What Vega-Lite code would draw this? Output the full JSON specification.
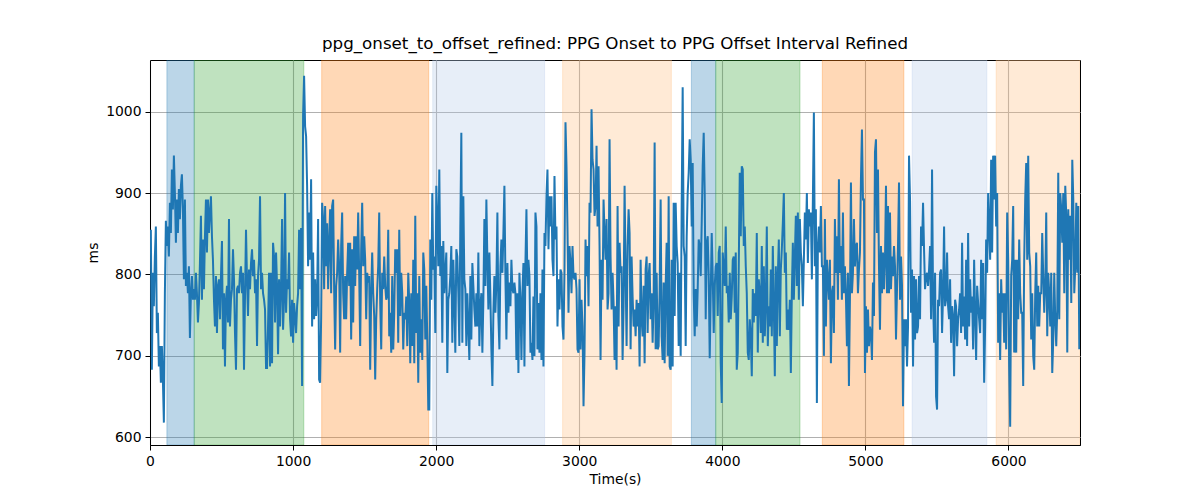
{
"$schema":"https://vega.github.io/schema/vega-lite/v6.json",
"width":930,"height":385,
"autosize":"none",
"padding":{"left":150,"top":60,"right":120,"bottom":55},
"background":"white",
"title":{"text":"ppg_onset_to_offset_refined: PPG Onset to PPG Offset Interval Refined","font":"DejaVu Sans","fontSize":16.7,"fontWeight":"normal","color":"black","anchor":"middle","offset":7},
"config":{
"view":{"stroke":"black","strokeWidth":1},
"axis":{"labelFont":"DejaVu Sans","titleFont":"DejaVu Sans","labelFontSize":13.9,"titleFontSize":13.9,"titleFontWeight":"normal","labelColor":"black","titleColor":"black","domainColor":"black","tickColor":"black","tickSize":5,"labelPadding":4,"gridColor":"#b0b0b0","gridWidth":1.1,"titlePadding":5,"labelFlush":false,"labelOverlap":false}
},
"datasets":{
"spans":[
{"start":118,"end":309,"label":"A"},{"start":309,"end":1075,"label":"B"},{"start":1200,"end":1948,"label":"C"},{"start":1976,"end":2758,"label":"D"},{"start":2884,"end":3644,"label":"E"},
{"start":3784,"end":3954,"label":"A"},{"start":3954,"end":4543,"label":"B"},{"start":4699,"end":5269,"label":"C"},{"start":5327,"end":5849,"label":"D"},{"start":5914,"end":6500,"label":"E"}],
"ppg":[
{"t":6,"v":855},{"t":13,"v":683},{"t":20,"v":802},{"t":27,"v":761},{"t":34,"v":822},{"t":41,"v":859},{"t":48,"v":728},{"t":55,"v":753},{"t":62,"v":687},{"t":69,"v":712},
{"t":76,"v":667},{"t":83,"v":712},{"t":90,"v":671},{"t":97,"v":618},{"t":104,"v":777},{"t":111,"v":866},{"t":118,"v":835},{"t":125,"v":859},{"t":132,"v":822},{"t":139,"v":888},
{"t":146,"v":851},{"t":153,"v":929},{"t":160,"v":880},{"t":167,"v":946},{"t":174,"v":900},{"t":181,"v":839},{"t":188,"v":892},{"t":195,"v":851},{"t":202,"v":905},{"t":209,"v":868},
{"t":216,"v":909},{"t":223,"v":923},{"t":230,"v":880},{"t":237,"v":794},{"t":244,"v":892},{"t":251,"v":786},{"t":258,"v":802},{"t":265,"v":777},{"t":272,"v":810},{"t":279,"v":722},
{"t":286,"v":777},{"t":293,"v":798},{"t":300,"v":769},{"t":307,"v":782},{"t":314,"v":769},{"t":321,"v":802},{"t":328,"v":777},{"t":335,"v":741},{"t":342,"v":765},{"t":349,"v":814},
{"t":356,"v":872},{"t":363,"v":769},{"t":370,"v":843},{"t":377,"v":782},{"t":384,"v":847},{"t":391,"v":892},{"t":398,"v":827},{"t":405,"v":892},{"t":412,"v":851},{"t":419,"v":876},
{"t":426,"v":896},{"t":433,"v":847},{"t":440,"v":818},{"t":447,"v":769},{"t":454,"v":736},{"t":461,"v":798},{"t":468,"v":728},{"t":475,"v":786},{"t":482,"v":794},{"t":489,"v":745},
{"t":496,"v":798},{"t":503,"v":841},{"t":510,"v":708},{"t":517,"v":777},{"t":524,"v":687},{"t":531,"v":769},{"t":538,"v":786},{"t":545,"v":741},{"t":552,"v":868},{"t":559,"v":736},
{"t":566,"v":769},{"t":573,"v":782},{"t":580,"v":831},{"t":587,"v":794},{"t":594,"v":728},{"t":601,"v":683},{"t":608,"v":782},{"t":615,"v":786},{"t":622,"v":777},{"t":629,"v":802},
{"t":636,"v":810},{"t":643,"v":777},{"t":650,"v":802},{"t":657,"v":683},{"t":664,"v":773},{"t":671,"v":855},{"t":678,"v":794},{"t":685,"v":749},{"t":692,"v":806},{"t":699,"v":782},
{"t":706,"v":814},{"t":713,"v":831},{"t":720,"v":798},{"t":727,"v":818},{"t":734,"v":777},{"t":741,"v":794},{"t":748,"v":712},{"t":755,"v":798},{"t":762,"v":818},{"t":769,"v":896},
{"t":776,"v":782},{"t":783,"v":802},{"t":790,"v":777},{"t":797,"v":769},{"t":804,"v":757},{"t":811,"v":685},
{"t":818,"v":685},{"t":825,"v":736},{"t":832,"v":802},{"t":839,"v":687},{"t":846,"v":802},{"t":853,"v":691},{"t":860,"v":839},{"t":867,"v":822},{"t":874,"v":741},{"t":881,"v":827},
{"t":888,"v":786},{"t":895,"v":702},{"t":902,"v":794},{"t":909,"v":736},{"t":916,"v":782},{"t":923,"v":868},{"t":930,"v":732},{"t":937,"v":769},{"t":944,"v":900},{"t":951,"v":753},
{"t":958,"v":794},{"t":965,"v":782},{"t":972,"v":827},{"t":979,"v":745},{"t":986,"v":724},{"t":993,"v":769},{"t":1000,"v":716},{"t":1007,"v":765},{"t":1014,"v":749},{"t":1021,"v":728},
{"t":1028,"v":761},{"t":1035,"v":777},{"t":1042,"v":855},{"t":1049,"v":782},{"t":1056,"v":857},{"t":1063,"v":663},{"t":1070,"v":995},{"t":1077,"v":1044},{"t":1084,"v":982},{"t":1091,"v":970},
{"t":1098,"v":909},{"t":1105,"v":810},{"t":1112,"v":876},{"t":1119,"v":818},{"t":1126,"v":917},{"t":1133,"v":736},{"t":1140,"v":827},{"t":1147,"v":745},{"t":1154,"v":794},{"t":1161,"v":749},
{"t":1168,"v":773},{"t":1175,"v":868},{"t":1182,"v":671},{"t":1189,"v":667},{"t":1196,"v":745},{"t":1203,"v":888},{"t":1210,"v":868},{"t":1217,"v":782},{"t":1224,"v":884},{"t":1231,"v":810},
{"t":1238,"v":863},{"t":1245,"v":782},{"t":1252,"v":839},{"t":1259,"v":880},{"t":1266,"v":777},{"t":1273,"v":884},{"t":1280,"v":892},{"t":1287,"v":782},{"t":1294,"v":708},{"t":1301,"v":786},
{"t":1308,"v":802},{"t":1315,"v":843},{"t":1322,"v":810},{"t":1329,"v":704},{"t":1336,"v":835},{"t":1343,"v":876},{"t":1350,"v":777},{"t":1357,"v":745},{"t":1364,"v":798},{"t":1371,"v":745},
{"t":1378,"v":802},{"t":1385,"v":839},{"t":1392,"v":786},{"t":1399,"v":839},{"t":1406,"v":720},{"t":1413,"v":831},{"t":1420,"v":741},{"t":1427,"v":847},{"t":1434,"v":786},{"t":1441,"v":847},
{"t":1448,"v":806},{"t":1455,"v":876},{"t":1462,"v":802},{"t":1469,"v":712},{"t":1476,"v":831},{"t":1483,"v":888},{"t":1490,"v":810},{"t":1497,"v":847},{"t":1504,"v":818},{"t":1511,"v":745},
{"t":1518,"v":802},{"t":1525,"v":790},{"t":1532,"v":798},{"t":1539,"v":683},{"t":1546,"v":777},{"t":1553,"v":827},{"t":1560,"v":777},{"t":1567,"v":749},{"t":1574,"v":671},{"t":1581,"v":745},
{"t":1588,"v":782},{"t":1595,"v":810},{"t":1602,"v":876},{"t":1609,"v":765},{"t":1616,"v":708},{"t":1623,"v":802},{"t":1630,"v":782},{"t":1637,"v":822},{"t":1644,"v":786},{"t":1651,"v":769},
{"t":1658,"v":773},
{"t":1665,"v":855},{"t":1672,"v":724},{"t":1679,"v":753},{"t":1686,"v":704},{"t":1693,"v":798},{"t":1700,"v":708},{"t":1707,"v":753},{"t":1714,"v":831},{"t":1721,"v":802},{"t":1728,"v":831},
{"t":1735,"v":716},{"t":1742,"v":855},{"t":1749,"v":749},{"t":1756,"v":802},{"t":1763,"v":777},{"t":1770,"v":708},{"t":1777,"v":753},{"t":1784,"v":745},{"t":1791,"v":773},{"t":1798,"v":712},
{"t":1805,"v":802},{"t":1812,"v":765},{"t":1819,"v":691},{"t":1826,"v":777},{"t":1833,"v":712},{"t":1840,"v":818},{"t":1847,"v":691},{"t":1854,"v":872},{"t":1861,"v":728},{"t":1868,"v":777},
{"t":1875,"v":667},{"t":1882,"v":798},{"t":1889,"v":704},{"t":1896,"v":745},{"t":1903,"v":695},{"t":1910,"v":827},{"t":1917,"v":806},{"t":1924,"v":720},{"t":1931,"v":786},{"t":1938,"v":720},
{"t":1945,"v":634},{"t":1952,"v":634},{"t":1959,"v":843},{"t":1966,"v":769},{"t":1973,"v":900},{"t":1980,"v":806},{"t":1987,"v":822},{"t":1994,"v":728},{"t":2001,"v":909},{"t":2008,"v":868},
{"t":2015,"v":810},{"t":2022,"v":929},{"t":2029,"v":798},{"t":2036,"v":835},{"t":2043,"v":716},{"t":2050,"v":841},{"t":2057,"v":777},{"t":2064,"v":802},{"t":2071,"v":827},{"t":2078,"v":679},
{"t":2085,"v":769},{"t":2092,"v":777},{"t":2099,"v":798},{"t":2106,"v":835},{"t":2113,"v":716},{"t":2120,"v":818},{"t":2127,"v":769},{"t":2134,"v":704},{"t":2141,"v":831},{"t":2148,"v":822},
{"t":2155,"v":777},{"t":2162,"v":712},{"t":2169,"v":859},{"t":2176,"v":974},{"t":2183,"v":716},{"t":2190,"v":896},{"t":2197,"v":794},{"t":2204,"v":782},{"t":2211,"v":712},{"t":2218,"v":777},
{"t":2225,"v":736},{"t":2232,"v":695},{"t":2239,"v":798},{"t":2246,"v":720},{"t":2253,"v":814},{"t":2260,"v":786},{"t":2267,"v":757},{"t":2274,"v":736},{"t":2281,"v":777},{"t":2288,"v":736},
{"t":2295,"v":827},{"t":2302,"v":712},{"t":2309,"v":761},{"t":2316,"v":777},{"t":2323,"v":704},{"t":2330,"v":769},{"t":2337,"v":868},{"t":2344,"v":786},{"t":2351,"v":892},{"t":2358,"v":818},
{"t":2365,"v":757},{"t":2372,"v":827},{"t":2379,"v":773},{"t":2386,"v":708},{"t":2393,"v":663},{"t":2400,"v":753},{"t":2407,"v":798},{"t":2414,"v":753},{"t":2421,"v":790},{"t":2428,"v":876},
{"t":2435,"v":749},{"t":2442,"v":708},{"t":2449,"v":810},{"t":2456,"v":843},{"t":2463,"v":802},{"t":2470,"v":851},{"t":2477,"v":909},{"t":2484,"v":798},{"t":2491,"v":720},{"t":2498,"v":814},
{"t":2505,"v":753},{"t":2512,"v":790},{"t":2519,"v":761},{"t":2526,"v":818},{"t":2533,"v":782},{"t":2540,"v":777},{"t":2547,"v":790},{"t":2554,"v":777},{"t":2561,"v":695},{"t":2568,"v":777},
{"t":2575,"v":679},{"t":2582,"v":802},{"t":2589,"v":769},{"t":2596,"v":695},{"t":2603,"v":777},{"t":2610,"v":814},{"t":2617,"v":687},{"t":2624,"v":814},{"t":2631,"v":880},{"t":2638,"v":786},
{"t":2645,"v":818},{"t":2652,"v":798},{"t":2659,"v":704},{"t":2666,"v":716},{"t":2673,"v":695},{"t":2680,"v":773},{"t":2687,"v":700},{"t":2694,"v":876},{"t":2701,"v":859},{"t":2708,"v":708},
{"t":2715,"v":765},{"t":2722,"v":704},{"t":2729,"v":777},{"t":2736,"v":695},{"t":2743,"v":806},{"t":2750,"v":687},{"t":2757,"v":851},{"t":2764,"v":835},{"t":2771,"v":896},{"t":2778,"v":929},
{"t":2785,"v":831},{"t":2792,"v":896},{"t":2799,"v":859},{"t":2806,"v":896},{"t":2813,"v":818},{"t":2820,"v":798},{"t":2827,"v":921},{"t":2834,"v":843},{"t":2841,"v":859},{"t":2848,"v":736},
{"t":2855,"v":794},{"t":2862,"v":757},{"t":2869,"v":806},{"t":2876,"v":802},{"t":2883,"v":736},{"t":2890,"v":720},{"t":2897,"v":806},{"t":2904,"v":987},{"t":2911,"v":933},{"t":2918,"v":855},
{"t":2925,"v":753},{"t":2932,"v":835},{"t":2939,"v":814},{"t":2946,"v":777},{"t":2953,"v":835},{"t":2960,"v":798},{"t":2967,"v":794},{"t":2974,"v":802},{"t":2981,"v":782},{"t":2988,"v":708},
{"t":2995,"v":704},{"t":3002,"v":794},{"t":3009,"v":708},{"t":3016,"v":769},{"t":3023,"v":736},{"t":3030,"v":638},{"t":3037,"v":704},{"t":3044,"v":843},{"t":3051,"v":798},{"t":3058,"v":835},
{"t":3065,"v":761},{"t":3072,"v":888},{"t":3079,"v":876},{"t":3086,"v":1003},{"t":3093,"v":941},{"t":3100,"v":929},{"t":3107,"v":872},{"t":3114,"v":884},{"t":3121,"v":958},{"t":3128,"v":859},
{"t":3135,"v":933},{"t":3142,"v":835},{"t":3149,"v":695},{"t":3156,"v":818},{"t":3163,"v":769},{"t":3170,"v":892},{"t":3177,"v":851},{"t":3184,"v":818},{"t":3191,"v":868},{"t":3198,"v":757},
{"t":3205,"v":777},{"t":3212,"v":966},{"t":3219,"v":822},{"t":3226,"v":757},{"t":3233,"v":802},{"t":3240,"v":765},{"t":3247,"v":695},{"t":3254,"v":761},{"t":3261,"v":683},{"t":3268,"v":884},
{"t":3275,"v":736},{"t":3282,"v":839},{"t":3289,"v":802},{"t":3296,"v":810},{"t":3303,"v":695},{"t":3310,"v":761},{"t":3317,"v":909},{"t":3324,"v":802},{"t":3331,"v":712},{"t":3338,"v":835},
{"t":3345,"v":880},{"t":3352,"v":851},{"t":3359,"v":708},{"t":3366,"v":822},{"t":3373,"v":773},{"t":3380,"v":736},{"t":3387,"v":757},{"t":3394,"v":724},{"t":3401,"v":769},{"t":3408,"v":736},
{"t":3415,"v":765},{"t":3422,"v":687},{"t":3429,"v":818},{"t":3436,"v":745},{"t":3443,"v":724},{"t":3450,"v":786},{"t":3457,"v":691},{"t":3464,"v":806},{"t":3471,"v":822},{"t":3478,"v":728},
{"t":3485,"v":798},{"t":3492,"v":814},{"t":3499,"v":745},{"t":3506,"v":777},{"t":3513,"v":716},{"t":3520,"v":769},{"t":3527,"v":962},{"t":3534,"v":708},{"t":3541,"v":802},{"t":3548,"v":708},
{"t":3555,"v":712},{"t":3562,"v":782},{"t":3569,"v":892},{"t":3576,"v":724},{"t":3583,"v":695},{"t":3590,"v":790},{"t":3597,"v":691},{"t":3604,"v":786},{"t":3611,"v":839},{"t":3618,"v":700},
{"t":3625,"v":896},{"t":3632,"v":687},{"t":3639,"v":683},{"t":3646,"v":818},{"t":3653,"v":687},{"t":3660,"v":888},{"t":3667,"v":749},{"t":3674,"v":888},{"t":3681,"v":835},{"t":3688,"v":814},
{"t":3695,"v":712},{"t":3702,"v":802},{"t":3709,"v":700},{"t":3716,"v":884},{"t":3723,"v":1030},{"t":3730,"v":835},{"t":3737,"v":822},{"t":3744,"v":712},{"t":3751,"v":847},{"t":3758,"v":900},
{"t":3765,"v":925},{"t":3772,"v":966},{"t":3779,"v":941},{"t":3786,"v":859},{"t":3793,"v":937},{"t":3800,"v":777},{"t":3807,"v":724},{"t":3814,"v":782},{"t":3821,"v":736},{"t":3828,"v":782},
{"t":3835,"v":843},{"t":3842,"v":835},{"t":3849,"v":798},{"t":3856,"v":863},{"t":3863,"v":933},{"t":3870,"v":974},{"t":3877,"v":900},{"t":3884,"v":745},{"t":3891,"v":839},{"t":3898,"v":847},
{"t":3905,"v":798},{"t":3912,"v":697},{"t":3919,"v":777},{"t":3926,"v":851},{"t":3933,"v":798},{"t":3940,"v":728},{"t":3947,"v":786},{"t":3954,"v":810},{"t":3961,"v":814},{"t":3968,"v":749},
{"t":3975,"v":827},{"t":3982,"v":835},{"t":3989,"v":691},{"t":3996,"v":642},{"t":4003,"v":827},{"t":4010,"v":806},{"t":4017,"v":786},{"t":4024,"v":859},{"t":4031,"v":777},{"t":4038,"v":786},
{"t":4045,"v":741},{"t":4052,"v":802},{"t":4059,"v":745},{"t":4066,"v":773},{"t":4073,"v":818},{"t":4080,"v":822},{"t":4087,"v":753},{"t":4094,"v":827},{"t":4101,"v":683},{"t":4108,"v":704},
{"t":4115,"v":810},{"t":4122,"v":925},{"t":4129,"v":847},{"t":4136,"v":933},{"t":4143,"v":929},{"t":4150,"v":835},{"t":4157,"v":859},{"t":4164,"v":810},{"t":4171,"v":777},{"t":4178,"v":704},
{"t":4185,"v":695},{"t":4192,"v":745},{"t":4199,"v":724},{"t":4206,"v":675},{"t":4213,"v":782},{"t":4220,"v":741},{"t":4227,"v":777},{"t":4234,"v":749},{"t":4241,"v":851},{"t":4248,"v":704},
{"t":4255,"v":794},{"t":4262,"v":777},{"t":4269,"v":728},{"t":4276,"v":835},{"t":4283,"v":716},{"t":4290,"v":810},{"t":4297,"v":724},{"t":4304,"v":765},{"t":4311,"v":859},{"t":4318,"v":712},
{"t":4325,"v":761},{"t":4332,"v":736},{"t":4339,"v":806},{"t":4346,"v":724},{"t":4353,"v":835},{"t":4360,"v":761},{"t":4367,"v":675},{"t":4374,"v":810},{"t":4381,"v":712},{"t":4388,"v":798},
{"t":4395,"v":843},{"t":4402,"v":724},{"t":4409,"v":806},{"t":4416,"v":831},{"t":4423,"v":863},{"t":4430,"v":900},{"t":4437,"v":802},{"t":4444,"v":827},{"t":4451,"v":732},{"t":4458,"v":757},
{"t":4465,"v":732},{"t":4472,"v":769},{"t":4479,"v":679},{"t":4486,"v":777},{"t":4493,"v":839},{"t":4500,"v":769},{"t":4507,"v":822},{"t":4514,"v":872},{"t":4521,"v":786},{"t":4528,"v":876},
{"t":4535,"v":769},{"t":4542,"v":868},{"t":4549,"v":827},{"t":4556,"v":810},{"t":4563,"v":761},{"t":4570,"v":818},{"t":4577,"v":876},{"t":4584,"v":843},{"t":4591,"v":900},{"t":4598,"v":814},
{"t":4605,"v":880},{"t":4612,"v":859},{"t":4619,"v":876},{"t":4626,"v":794},{"t":4633,"v":892},{"t":4640,"v":999},{"t":4647,"v":810},{"t":4654,"v":880},{"t":4661,"v":642},{"t":4668,"v":835},
{"t":4675,"v":859},{"t":4682,"v":827},{"t":4689,"v":884},{"t":4696,"v":810},{"t":4703,"v":810},{"t":4710,"v":700},{"t":4717,"v":868},{"t":4724,"v":736},{"t":4731,"v":818},{"t":4738,"v":794},
{"t":4745,"v":769},{"t":4752,"v":818},{"t":4759,"v":691},{"t":4766,"v":777},{"t":4773,"v":786},{"t":4780,"v":728},{"t":4787,"v":868},{"t":4794,"v":802},{"t":4801,"v":847},{"t":4808,"v":769},
{"t":4815,"v":917},{"t":4822,"v":802},{"t":4829,"v":835},{"t":4836,"v":769},{"t":4843,"v":876},{"t":4850,"v":777},{"t":4857,"v":810},{"t":4864,"v":773},{"t":4871,"v":712},{"t":4878,"v":802},
{"t":4885,"v":663},{"t":4892,"v":769},{"t":4899,"v":913},{"t":4906,"v":777},{"t":4913,"v":802},{"t":4920,"v":868},{"t":4927,"v":810},{"t":4934,"v":835},{"t":4941,"v":839},{"t":4948,"v":777},
{"t":4955,"v":806},{"t":4962,"v":827},{"t":4969,"v":917},{"t":4976,"v":978},{"t":4983,"v":892},{"t":4990,"v":892},{"t":4997,"v":679},{"t":5004,"v":761},{"t":5011,"v":704},{"t":5018,"v":757},
{"t":5025,"v":712},{"t":5032,"v":736},{"t":5039,"v":728},{"t":5046,"v":695},{"t":5053,"v":790},{"t":5060,"v":749},{"t":5067,"v":950},{"t":5074,"v":966},{"t":5081,"v":851},{"t":5088,"v":929},
{"t":5095,"v":810},{"t":5102,"v":732},{"t":5109,"v":835},{"t":5116,"v":777},{"t":5123,"v":827},{"t":5130,"v":782},{"t":5137,"v":818},{"t":5144,"v":909},{"t":5151,"v":777},{"t":5158,"v":884},
{"t":5165,"v":777},{"t":5172,"v":876},{"t":5179,"v":782},{"t":5186,"v":822},{"t":5193,"v":798},{"t":5200,"v":835},{"t":5207,"v":810},{"t":5214,"v":720},{"t":5221,"v":782},{"t":5228,"v":835},
{"t":5235,"v":913},{"t":5242,"v":769},{"t":5249,"v":822},{"t":5256,"v":786},{"t":5263,"v":638},{"t":5270,"v":745},{"t":5277,"v":712},{"t":5284,"v":745},{"t":5291,"v":687},{"t":5298,"v":736},
{"t":5305,"v":946},{"t":5312,"v":892},{"t":5319,"v":753},{"t":5326,"v":806},{"t":5333,"v":687},{"t":5340,"v":798},{"t":5347,"v":720},{"t":5354,"v":794},{"t":5361,"v":728},{"t":5368,"v":736},
{"t":5375,"v":798},{"t":5382,"v":745},{"t":5389,"v":859},{"t":5396,"v":835},{"t":5403,"v":888},{"t":5410,"v":831},{"t":5417,"v":782},{"t":5424,"v":798},{"t":5431,"v":802},{"t":5438,"v":786},
{"t":5445,"v":806},{"t":5452,"v":835},{"t":5459,"v":745},{"t":5466,"v":929},{"t":5473,"v":769},{"t":5480,"v":716},{"t":5487,"v":802},{"t":5494,"v":650},{"t":5501,"v":634},{"t":5508,"v":769},
{"t":5515,"v":761},{"t":5522,"v":802},{"t":5529,"v":806},{"t":5536,"v":728},{"t":5543,"v":777},{"t":5550,"v":859},{"t":5557,"v":761},{"t":5564,"v":769},{"t":5571,"v":827},{"t":5578,"v":761},
{"t":5585,"v":745},{"t":5592,"v":794},{"t":5599,"v":716},{"t":5606,"v":761},{"t":5613,"v":749},{"t":5620,"v":675},{"t":5627,"v":769},{"t":5634,"v":761},{"t":5641,"v":712},{"t":5648,"v":745},
{"t":5655,"v":757},{"t":5662,"v":777},{"t":5669,"v":728},{"t":5676,"v":839},{"t":5683,"v":736},{"t":5690,"v":773},{"t":5697,"v":720},{"t":5704,"v":818},{"t":5711,"v":712},{"t":5718,"v":851},
{"t":5725,"v":736},{"t":5732,"v":794},{"t":5739,"v":753},{"t":5746,"v":773},{"t":5753,"v":708},{"t":5760,"v":818},{"t":5767,"v":753},{"t":5774,"v":695},{"t":5781,"v":786},{"t":5788,"v":765},
{"t":5795,"v":745},{"t":5802,"v":728},{"t":5809,"v":818},{"t":5816,"v":745},{"t":5823,"v":814},{"t":5830,"v":667},{"t":5837,"v":736},{"t":5844,"v":843},{"t":5851,"v":802},{"t":5858,"v":900},
{"t":5865,"v":859},{"t":5872,"v":818},{"t":5879,"v":941},{"t":5886,"v":827},{"t":5893,"v":946},{"t":5900,"v":892},{"t":5907,"v":946},{"t":5914,"v":859},{"t":5921,"v":900},{"t":5928,"v":716},
{"t":5935,"v":777},{"t":5942,"v":695},{"t":5949,"v":794},{"t":5956,"v":753},{"t":5963,"v":777},{"t":5970,"v":716},{"t":5977,"v":777},{"t":5984,"v":708},{"t":5991,"v":876},{"t":5998,"v":818},
{"t":6005,"v":687},{"t":6012,"v":613},{"t":6019,"v":798},{"t":6026,"v":818},{"t":6033,"v":884},{"t":6040,"v":704},{"t":6047,"v":818},{"t":6054,"v":704},{"t":6061,"v":818},{"t":6068,"v":745},
{"t":6075,"v":843},{"t":6082,"v":777},{"t":6089,"v":753},{"t":6096,"v":753},{"t":6103,"v":663},{"t":6110,"v":818},{"t":6117,"v":892},{"t":6124,"v":937},{"t":6131,"v":818},{"t":6138,"v":946},
{"t":6145,"v":827},{"t":6152,"v":810},{"t":6159,"v":720},{"t":6166,"v":777},{"t":6173,"v":700},{"t":6180,"v":683},{"t":6187,"v":777},{"t":6194,"v":827},{"t":6201,"v":736},{"t":6208,"v":786},
{"t":6215,"v":736},{"t":6222,"v":777},{"t":6229,"v":777},{"t":6236,"v":851},{"t":6243,"v":798},{"t":6250,"v":753},{"t":6257,"v":786},{"t":6264,"v":876},{"t":6271,"v":724},{"t":6278,"v":802},
{"t":6285,"v":777},{"t":6292,"v":736},{"t":6299,"v":802},{"t":6306,"v":679},{"t":6313,"v":720},{"t":6320,"v":802},{"t":6327,"v":745},{"t":6334,"v":712},{"t":6341,"v":757},{"t":6348,"v":925},
{"t":6355,"v":745},{"t":6362,"v":900},{"t":6369,"v":880},{"t":6376,"v":839},{"t":6383,"v":900},{"t":6390,"v":777},{"t":6397,"v":909},{"t":6404,"v":872},{"t":6411,"v":704},{"t":6418,"v":880},
{"t":6425,"v":818},{"t":6432,"v":872},{"t":6439,"v":765},{"t":6446,"v":941},{"t":6453,"v":892},{"t":6460,"v":777},{"t":6467,"v":810},{"t":6474,"v":888},{"t":6481,"v":802},{"t":6488,"v":884},
{"t":6495,"v":708}
]},
"layer":[
{"data":{"name":"spans"},
 "mark":{"type":"rect","fillOpacity":0.3,"strokeOpacity":0.3,"strokeWidth":1,"clip":true},
 "encoding":{
  "x":{"field":"start","type":"quantitative","scale":{"domain":[0,6500],"nice":false,"zero":false},"axis":{"title":"Time(s)","values":[0,1000,2000,3000,4000,5000,6000],"grid":true,"format":"d"}},
  "x2":{"field":"end"},
  "color":{"field":"label","type":"nominal","scale":{"domain":["A","B","C","D","E"],"range":["#1f77b4","#2ca02c","#ff7f0e","#aec7e8","#ffbb78"]},"legend":null},
  "stroke":{"field":"label","type":"nominal","scale":{"domain":["A","B","C","D","E"],"range":["#1f77b4","#2ca02c","#ff7f0e","#aec7e8","#ffbb78"]},"legend":null}
 }},
{"data":{"name":"ppg"},
 "mark":{"type":"line","color":"#1f77b4","strokeWidth":2,"clip":true},
 "encoding":{
  "x":{"field":"t","type":"quantitative","axis":{"title":"Time(s)","values":[0,1000,2000,3000,4000,5000,6000],"grid":true,"format":"d"}},
  "y":{"field":"v","type":"quantitative","scale":{"domain":[590.5,1063.5],"nice":false,"zero":false},"axis":{"title":"ms","values":[600,700,800,900,1000],"grid":true,"format":"d"}}
 }}
]
}
